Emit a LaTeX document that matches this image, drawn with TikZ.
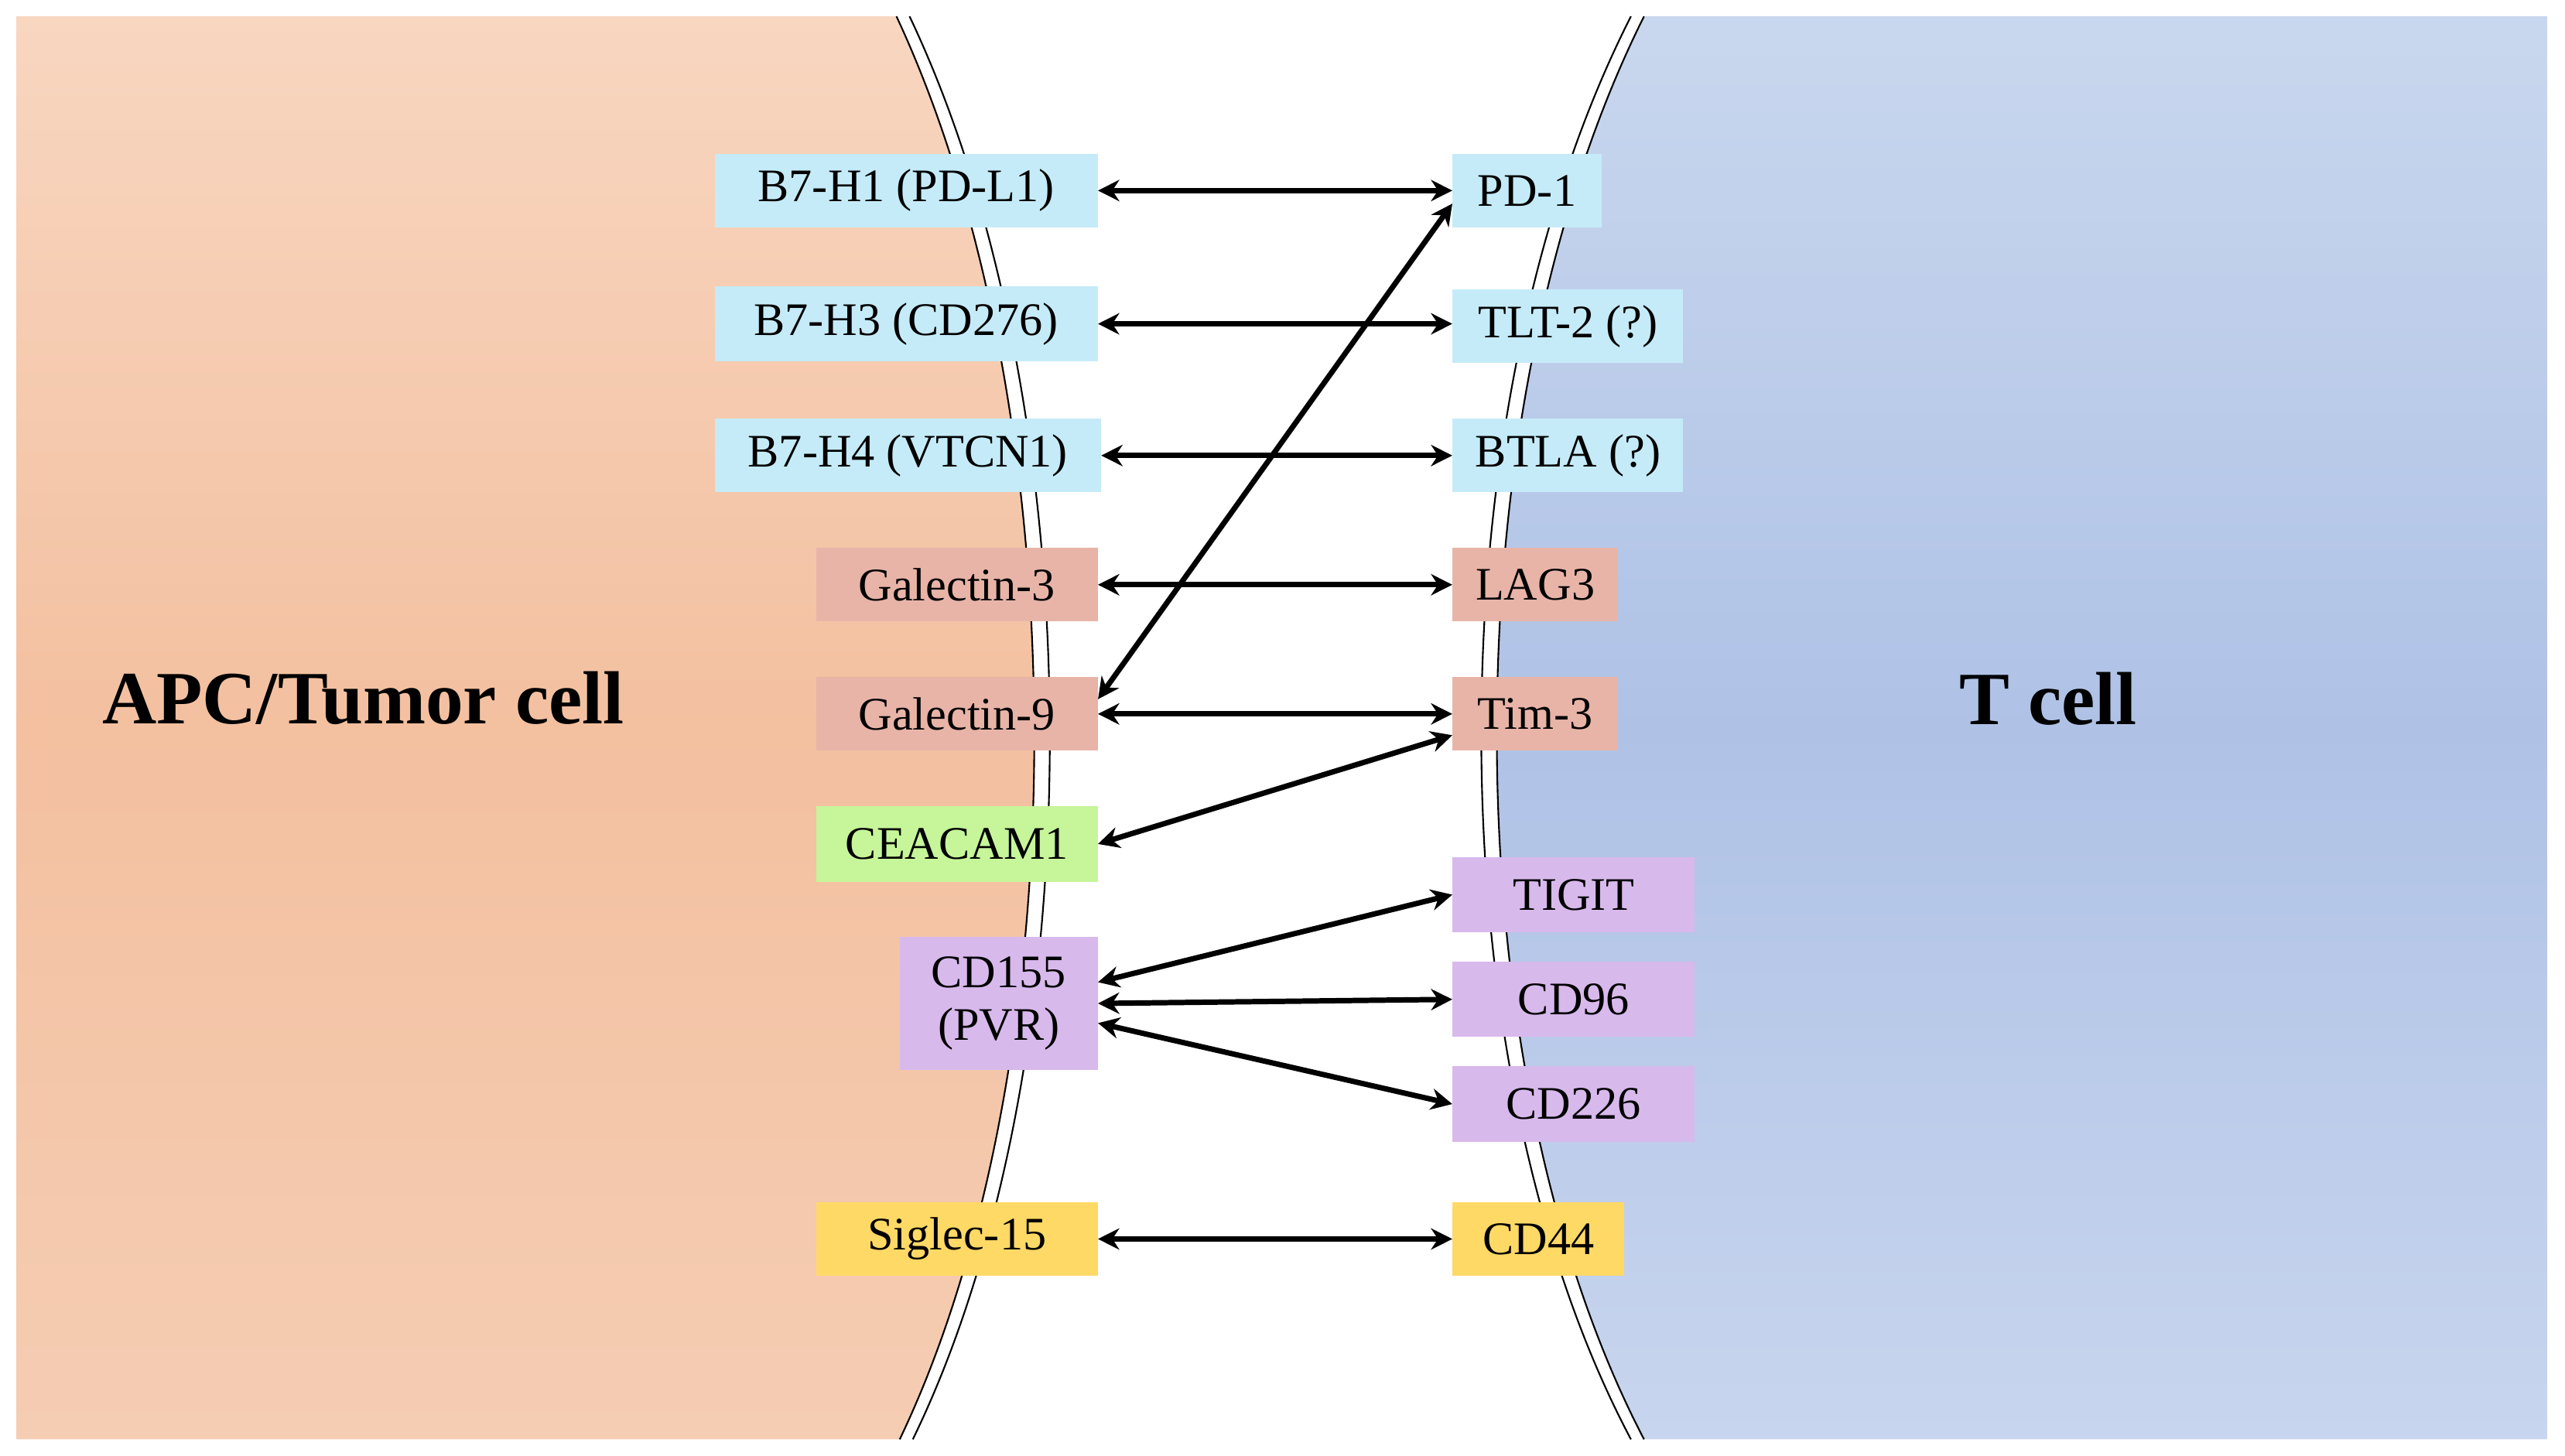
\documentclass[tikz,border=0pt]{standalone}
\usepackage{fontspec}
\setmainfont{Liberation Serif}
\usetikzlibrary{arrows.meta}
\definecolor{cblue}{HTML}{C5EBF8}
\definecolor{csal}{HTML}{E8B4A8}
\definecolor{cgreen}{HTML}{C6F59A}
\definecolor{cpur}{HTML}{D8B9EC}
\definecolor{cyel}{HTML}{FFD966}
\definecolor{or1}{HTML}{F8D6C0}
\definecolor{or2}{HTML}{F3C0A0}
\definecolor{or3}{HTML}{F5CDB3}
\definecolor{bl1}{HTML}{C9D7EE}
\definecolor{bl2}{HTML}{AFC2E6}
\definecolor{bl3}{HTML}{C8D5EE}
\tikzset{
 box/.style={draw=none,inner sep=0pt,font=\fontsize{28.5}{32}\selectfont,align=center},
 link/.style={line width=3.3pt,{Stealth[length=13pt,width=13pt]}-{Stealth[length=13pt,width=13pt]}},
}
\newcommand{\bx}[7]{\node[box,fill=#6,minimum width=#3-#2,minimum height=#5-#4] (#1) at ({(#2+#3)/2},{(#4+#5)/2}) {#7};}
\begin{document}
\begin{tikzpicture}[x=1pt,y=-1pt]
\useasboundingbox (0,0) rectangle (1568,890);
% left cell
\shade[top color=or1,bottom color=or3,middle color=or2]
 (10,10) -- (548,10) .. controls (660,250) and (660,650) .. (550,880) -- (10,880) -- cycle;
\draw[line width=1pt] (548,10) .. controls (660,250) and (660,650) .. (550,880);
\draw[line width=1pt] (556,10) .. controls (670,250) and (670,650) .. (558,880);
% right cell
\shade[top color=bl1,bottom color=bl3,middle color=bl2]
 (1557,10) -- (1005,10) .. controls (885,250) and (885,650) .. (1005,880) -- (1557,880) -- cycle;
\draw[line width=1pt] (1005,10) .. controls (885,250) and (885,650) .. (1005,880);
\draw[line width=1pt] (997,10) .. controls (875,250) and (875,650) .. (997,880);
\node[font=\fontsize{46}{50}\selectfont\bfseries] (apc) at (222,427) {APC/Tumor cell};
\node[font=\fontsize{46}{50}\selectfont\bfseries] (tc) at (1252,427) {T cell};
\bx{b1}{437}{671}{94}{139}{cblue}{B7-H1 (PD-L1)}
\bx{b3}{437}{671}{175}{221}{cblue}{B7-H3 (CD276)}
\bx{b4}{437}{673}{256}{301}{cblue}{B7-H4 (VTCN1)}
\bx{g3}{499}{671}{335}{380}{csal}{Galectin-3}
\bx{g9}{499}{671}{414}{459}{csal}{Galectin-9}
\bx{ce}{499}{671}{493}{539}{cgreen}{CEACAM1}
\bx{cd}{550}{671}{573}{654}{cpur}{CD155\\(PVR)}
\bx{si}{499}{671}{735}{780}{cyel}{Siglec-15}
\bx{pd}{888}{979}{94}{139}{cblue}{PD-1}
\bx{tl}{888}{1029}{177}{222}{cblue}{TLT-2 (?)}
\bx{bt}{888}{1029}{256}{301}{cblue}{BTLA (?)}
\bx{la}{888}{989}{335}{380}{csal}{LAG3}
\bx{ti}{888}{989}{414}{459}{csal}{Tim-3}
\bx{tg}{888}{1036}{524}{570}{cpur}{TIGIT}
\bx{c96}{888}{1036}{588}{634}{cpur}{CD96}
\bx{c226}{888}{1036}{652}{698}{cpur}{CD226}
\bx{c44}{888}{993}{735}{780}{cyel}{CD44}
\draw[link] (b1.east) -- (pd.west);
\draw[link] (b3.east) -- (b3.east -| tl.west);
\draw[link] (b4.east) -- (bt.west);
\draw[link] (g3.east) -- (la.west);
\draw[link] ([yshift=9pt]g9.east) -- ([yshift=-8pt]pd.west);
\draw[link] (g9.east) -- (ti.west);
\draw[link] (ce.east) -- ([yshift=-13pt]ti.west);
\draw[link] ([yshift=13pt]cd.east) -- (tg.west);
\draw[link] (cd.east) -- (c96.west);
\draw[link] ([yshift=-12pt]cd.east) -- (c226.west);
\draw[link] (si.east) -- (c44.west);
\end{tikzpicture}
\end{document}
